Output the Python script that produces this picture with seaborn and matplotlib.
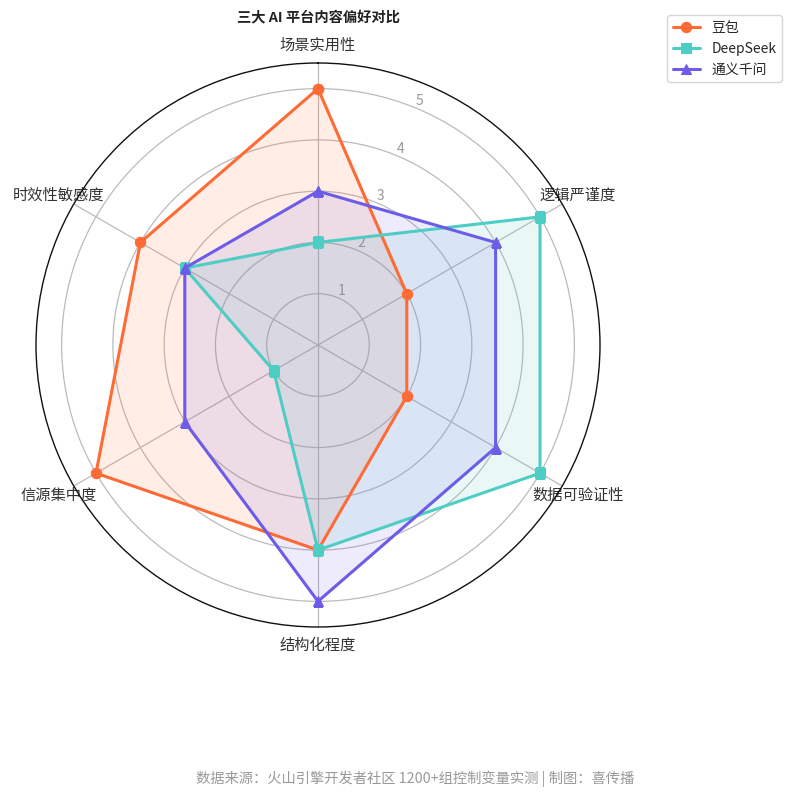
import numpy as np
import pandas as pd
import matplotlib
matplotlib.use("Agg")
import matplotlib.pyplot as plt
import seaborn as sns

sns.set_theme(style="white")
plt.rcParams['font.family'] = ['Noto Sans CJK SC', 'DejaVu Sans']
plt.rcParams['axes.unicode_minus'] = False

categories = ["场景实用性", "逻辑严谨度", "数据可验证性", "结构化程度", "信源集中度", "时效性敏感度"]
doubao = [5, 2, 2, 4, 5, 4]
deepseek = [2, 5, 5, 4, 1, 3]
tongyi = [3, 4, 4, 5, 3, 3]
series_names = ["豆包", "DeepSeek", "通义千问"]
colors = ["#FF6B35", "#4ECDC4", "#6C5CE7"]
markers = ["o", "s", "^"]
r_ticks = [1, 2, 3, 4, 5]

n = len(categories)
angles = np.linspace(0, 2 * np.pi, n, endpoint=False)
rows = []
for name, vals in zip(series_names, [doubao, deepseek, tongyi]):
    for i, (a, v) in enumerate(zip(list(angles) + [angles[0]], vals + [vals[0]])):
        rows.append({"series": name, "angle": a, "value": v, "order": i})
df = pd.DataFrame(rows)

fig = plt.figure(figsize=(7.98, 8.0), dpi=100)
ax = fig.add_axes([36 / 798, 1 - 627 / 800, 564 / 798, 564 / 800], projection="polar")
ax.set_theta_offset(np.pi / 2)
ax.set_theta_direction(-1)

for name, c, m in zip(series_names, colors, markers):
    sub = df[df.series == name].sort_values("order")
    sns.lineplot(data=sub, x="angle", y="value", sort=False, ax=ax, color=c,
                 marker=m, markersize=7.5, linewidth=2.2, label=name,
                 markeredgecolor=c, estimator=None)
    ax.fill(sub["angle"], sub["value"], color=c, alpha=0.12)

ax.set_ylim(0, 5.5)
ax.set_yticks(r_ticks)
ax.set_yticklabels([str(t) for t in r_ticks], color="#999999", fontsize=10)
ax.set_rlabel_position(22.5)
ax.set_xticks(angles)
ax.set_xticklabels(categories, fontsize=11, color="#333333")
ax.tick_params(axis="x", pad=0)
ax.set_xlabel("")
ax.set_ylabel("")
ax.grid(True, color="#bbbbbb", linewidth=0.9)
ax.spines["polar"].set_color("#111111")
ax.spines["polar"].set_linewidth(1.0)

ax.legend(loc="upper right", bbox_to_anchor=(782 / 798, 1 - 15 / 800),
          bbox_transform=fig.transFigure, fontsize=10, frameon=True,
          edgecolor="#cccccc", borderaxespad=0)

fig.text(318 / 798, 1 - 17 / 800, "三大 AI 平台内容偏好对比", ha="center", va="center",
         fontsize=10.3, fontweight="bold", color="#222222")
fig.text(415 / 798, 1 - 779 / 800,
         "数据来源：火山引擎开发者社区 1200+组控制变量实测 | 制图：喜传播",
         ha="center", va="center", fontsize=10.3, color="#999999")

fig.savefig("out.png", dpi=100)
